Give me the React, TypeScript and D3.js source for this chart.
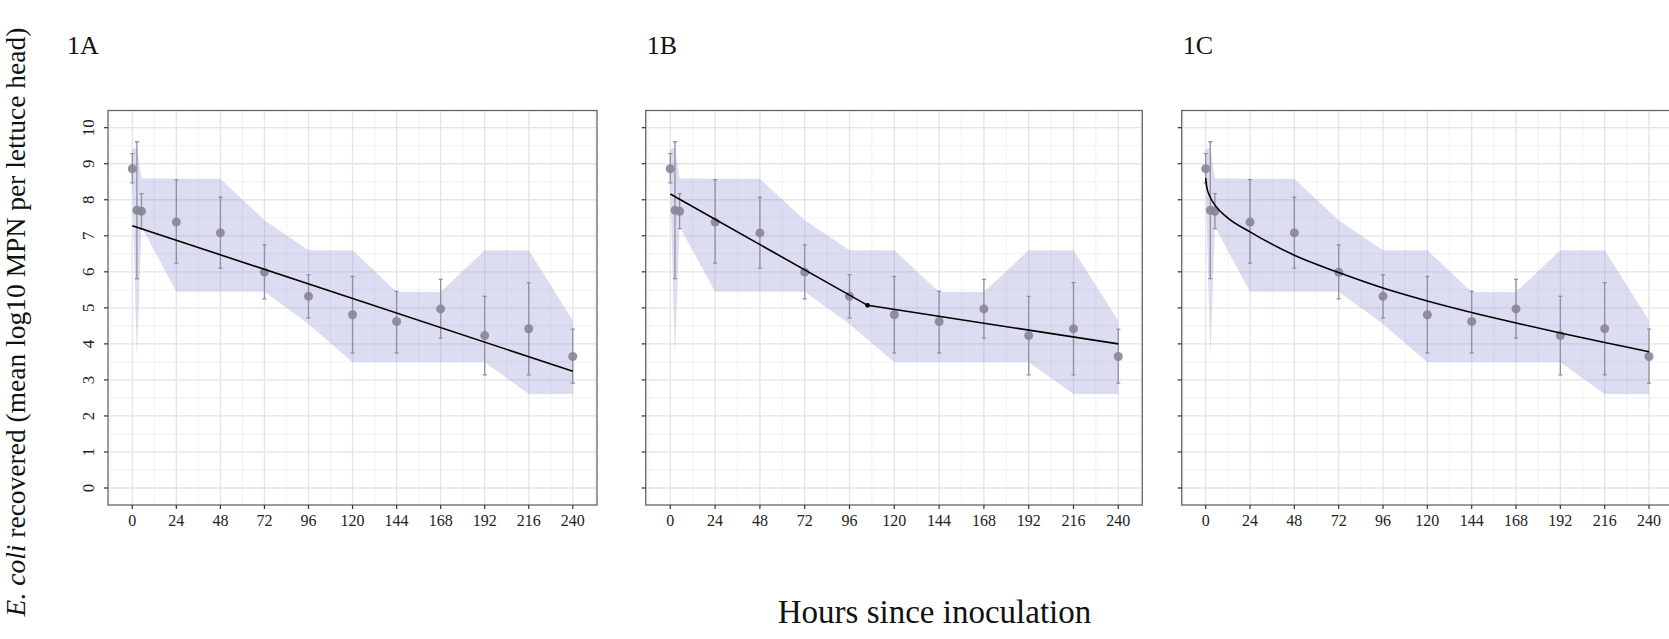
import React from 'react';
import * as d3 from 'd3';

// observed means (log10 MPN per head) and error bars
const HOURS = [0, 2.5, 5, 24, 48, 72, 96, 120, 144, 168, 192, 216, 240];
const MEANS = [8.86, 7.71, 7.68, 7.38, 7.08, 5.99, 5.32, 4.81, 4.62, 4.97, 4.23, 4.42, 3.65];
const ERR_HI = [9.28, 9.61, 8.17, 8.56, 8.07, 6.75, 5.92, 5.87, 5.46, 5.79, 5.32, 5.7, 4.41];
const ERR_LO = [8.47, 5.81, 7.2, 6.24, 6.1, 5.25, 4.72, 3.75, 3.75, 4.16, 3.14, 3.14, 2.91];

// shaded band
const BAND_HI = [9.4, 9.45, 8.6, 8.58, 8.58, 7.43, 6.6, 6.6, 5.44, 5.44, 6.6, 6.6, 4.65];
const BAND_LO = [8.45, 3.62, 7.25, 5.45, 5.45, 5.45, 4.55, 3.49, 3.49, 3.49, 3.49, 2.61, 2.61];

// fitted models
const FIT_A: [number, number][] = [[0, 7.28], [240, 3.24]];
const FIT_B: [number, number][] = [[0, 8.16], [105.7, 5.07], [240, 4.0]];
const BREAK_B: [number, number] = [105.7, 5.07];
const FIT_C: [number, number][] = [
  [0, 8.6], [0.5, 8.37], [2.3, 8.09], [5, 7.85], [11.4, 7.52], [24, 7.11], [48, 6.46],
  [72, 5.98], [96, 5.55], [120, 5.19], [144, 4.87], [168, 4.58], [192, 4.3], [216, 4.04], [240, 3.78],
];

const X_TICKS = [0, 24, 48, 72, 96, 120, 144, 168, 192, 216, 240];
const Y_TICKS = [0, 1, 2, 3, 4, 5, 6, 7, 8, 9, 10];

const PANELS = [
  { title: '1A', fit: FIT_A, smooth: false, brk: null, left: 108, right: 597, x0: 132.3, x240: 572.8, labels: true },
  { title: '1B', fit: FIT_B, smooth: false, brk: BREAK_B, left: 645.7, right: 1142.3, x0: 670.3, x240: 1118.3, labels: false },
  { title: '1C', fit: FIT_C, smooth: true, brk: null, left: 1181.7, right: 1673, x0: 1205.7, x240: 1649, labels: false },
];

const TOP = 110.5;
const BOTTOM = 505;
const FONT = '"Liberation Serif", "Times New Roman", serif';

const y = d3.scaleLinear().domain([0, 10]).range([488, 127.7]);

function Panel({ p }: { p: typeof PANELS[number] }) {
  const x = d3.scaleLinear().domain([0, 240]).range([p.x0, p.x240]);
  const minorX = d3.range(-12, 264, 24).filter(v => x(v) > p.left && x(v) < p.right);
  const minorY = d3.range(0.5, 10, 1);

  const band = d3.area<number>()
    .x((_, i) => x(HOURS[i]))
    .y0((_, i) => y(BAND_LO[i]))
    .y1((_, i) => y(BAND_HI[i]));

  const fitLine = d3.line<[number, number]>()
    .x(d => x(d[0])).y(d => y(d[1]))
    .curve(p.smooth ? d3.curveMonotoneX : d3.curveLinear);

  const clipId = 'clip-' + p.title;

  return (
    <g>
      <defs>
        <clipPath id={clipId}>
          <rect x={p.left} y={TOP} width={p.right - p.left} height={BOTTOM - TOP} />
        </clipPath>
      </defs>
      <rect x={p.left} y={TOP} width={p.right - p.left} height={BOTTOM - TOP} fill="#fff" />
      <g clipPath={`url(#${clipId})`}>
        {minorX.map(v => (
          <line key={'mx' + v} x1={x(v)} x2={x(v)} y1={TOP} y2={BOTTOM} stroke="#f0f0f4" strokeWidth={0.9} />
        ))}
        {minorY.map(v => (
          <line key={'my' + v} x1={p.left} x2={p.right} y1={y(v)} y2={y(v)} stroke="#f0f0f4" strokeWidth={0.9} />
        ))}
        {X_TICKS.map(v => (
          <line key={'gx' + v} x1={x(v)} x2={x(v)} y1={TOP} y2={BOTTOM} stroke="#e4e4ea" strokeWidth={1.3} />
        ))}
        {Y_TICKS.map(v => (
          <line key={'gy' + v} x1={p.left} x2={p.right} y1={y(v)} y2={y(v)} stroke="#e4e4ea" strokeWidth={1.3} />
        ))}
        <path d={band(HOURS) || ''} fill="rgb(120,120,200)" fillOpacity={0.25} />
        {HOURS.map((h, i) => (
          <g key={'e' + i} stroke="#9090a0" strokeWidth={1.3}>
            <line x1={x(h)} x2={x(h)} y1={y(ERR_HI[i])} y2={y(ERR_LO[i])} />
            <line x1={x(h) - 2} x2={x(h) + 2} y1={y(ERR_HI[i])} y2={y(ERR_HI[i])} />
            <line x1={x(h) - 2} x2={x(h) + 2} y1={y(ERR_LO[i])} y2={y(ERR_LO[i])} />
          </g>
        ))}
        {HOURS.map((h, i) => (
          <circle key={'p' + i} cx={x(h)} cy={y(MEANS[i])} r={4.5} fill="#868696" fillOpacity={0.9} />
        ))}
        <path d={fitLine(p.fit) || ''} fill="none" stroke="#000" strokeWidth={1.6} />
        {p.brk && <circle cx={x(p.brk[0])} cy={y(p.brk[1])} r={2.4} fill="#000" />}
      </g>
      <rect x={p.left} y={TOP} width={p.right - p.left} height={BOTTOM - TOP} fill="none" stroke="#666" strokeWidth={1.3} />
      {Y_TICKS.map(v => (
        <g key={'yt' + v}>
          <line x1={p.left - 4} x2={p.left} y1={y(v)} y2={y(v)} stroke="#333" strokeWidth={1.2} />
          {p.labels && (
            <text transform={`translate(94,${y(v)}) rotate(-90)`} textAnchor="middle" fontSize={17}
              fontFamily={FONT} fill="#222">{v}</text>
          )}
        </g>
      ))}
      {X_TICKS.map(v => (
        <g key={'xt' + v}>
          <line x1={x(v)} x2={x(v)} y1={BOTTOM} y2={BOTTOM + 4} stroke="#333" strokeWidth={1.2} />
          <text x={x(v)} y={BOTTOM + 21} textAnchor="middle" fontSize={16} fontFamily={FONT} fill="#222">{v}</text>
        </g>
      ))}
      <text x={p.title === '1A' ? 67 : p.left + 1} y={54} fontSize={26} fontFamily={FONT} fill="#111">{p.title}</text>
    </g>
  );
}

export default function App() {
  return (
    <svg width={1669} height={639} style={{ position: 'absolute', left: 0, top: 0, background: '#fff' }}>
      {PANELS.map(p => <Panel key={p.title} p={p} />)}
      <text x={934.5} y={623} textAnchor="middle" fontSize={33} fontFamily={FONT} fill="#111">Hours since inoculation</text>
      <text transform="translate(25,322) rotate(-90)" textAnchor="middle" fontSize={27.5} fontFamily={FONT} fill="#111">
        <tspan fontStyle="italic">E. coli</tspan> recovered (mean log10 MPN per lettuce head)
      </text>
    </svg>
  );
}
